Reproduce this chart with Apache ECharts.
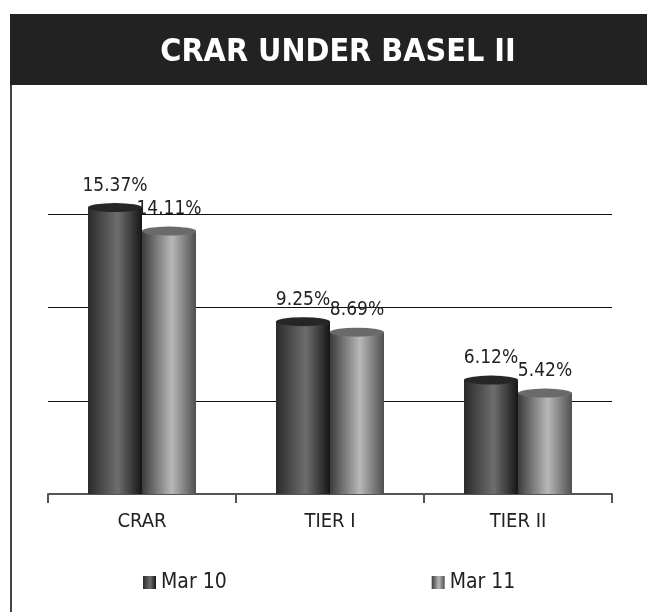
<!DOCTYPE html>
<html>
<head>
<meta charset="utf-8">
<style>
html, body { margin:0; padding:0; background:#fff; }
#main { width:647px; height:612px; }
</style>
</head>
<body>
<div id="main"></div>
<script src="https://cdn.jsdelivr.net/npm/echarts@6/dist/echarts.min.js"></script>
<script type="text/javascript">
	// data
	var categories = ['CRAR', 'TIER I', 'TIER II'];
	var seriesNames = ['Mar 10', 'Mar 11'];
	var mar10 = [15.37, 9.25, 6.12];
	var mar11 = [14.11, 8.69, 5.42];

	var font = "'Liberation Sans Narrow', 'DejaVu Sans Condensed', Arial, sans-serif";

	// cylinder-like shading
	function shade(c0, c1, c2) {
		return new echarts.graphic.LinearGradient(0, 0, 1, 0, [
			{offset: 0, color: c0},
			{offset: 0.55, color: c1},
			{offset: 1, color: c2}
		]);
	}
	var darkFill = shade('#2a2a2a', '#6e6e6e', '#151515');
	var lightFill = shade('#3c3c3c', '#b8b8b8', '#505050');

	var chart = echarts.init(document.getElementById('main'));

	var option = {
		animation: false,
		graphic: [
			{type: 'rect', shape: {x: 10, y: 14, width: 637, height: 71}, style: {fill: '#222222'}},
			{type: 'line', shape: {x1: 11, y1: 85, x2: 11, y2: 612}, style: {stroke: '#444', lineWidth: 2}}
		],
		title: {
			text: 'CRAR UNDER BASEL II',
			left: 333,
			top: 32,
			textAlign: 'center',
			textStyle: {color: '#fff', fontSize: 32, fontWeight: 'bold', fontFamily: font}
		},
		legend: {
			data: seriesNames,
			left: 138,
			top: 567,
			itemWidth: 13,
			itemHeight: 13,
			itemGap: 205,
			icon: 'rect',
			textStyle: {fontSize: 21, color: '#222', fontFamily: font}
		},
		grid: {left: 48, right: 35, top: 121, bottom: 118},
		xAxis: {
			type: 'category',
			data: categories,
			axisLine: {lineStyle: {color: '#555', width: 2}},
			axisTick: {show: true, length: 9, lineStyle: {color: '#555', width: 2}},
			axisLabel: {fontSize: 20, color: '#222', margin: 18, fontFamily: font}
		},
		yAxis: {
			type: 'value',
			min: 0,
			max: 20,
			interval: 5,
			axisLine: {show: false},
			axisTick: {show: false},
			axisLabel: {show: false},
			splitLine: {lineStyle: {color: ['transparent', '#111', '#111', '#111', 'transparent'], width: 1}}
		},
		series: [
			{
				name: seriesNames[0],
				type: 'bar',
				data: mar10,
				barWidth: 54,
				barGap: '0%',
				itemStyle: {color: darkFill},
				label: {
					show: true, position: 'top', distance: 12,
					fontSize: 19, color: '#222', fontFamily: font,
					formatter: function (p) { return p.value.toFixed(2) + '%'; }
				},
				z: 2
			},
			{
				name: seriesNames[1],
				type: 'bar',
				data: mar11,
				barWidth: 54,
				barGap: '0%',
				itemStyle: {color: lightFill},
				label: {
					show: true, position: 'top', distance: 12,
					fontSize: 19, color: '#222', fontFamily: font,
					formatter: function (p) { return p.value.toFixed(2) + '%'; }
				},
				z: 2
			},
			{
				name: 'cap10',
				type: 'pictorialBar',
				data: mar10,
				barWidth: 54,
				barGap: '0%',
				symbol: 'circle',
				symbolSize: [54, 9],
				symbolPosition: 'end',
				symbolOffset: [0, '-50%'],
				itemStyle: {color: '#262626', borderColor: '#555', borderWidth: 1},
				z: 3
			},
			{
				name: 'cap11',
				type: 'pictorialBar',
				data: mar11,
				barWidth: 54,
				barGap: '0%',
				symbol: 'circle',
				symbolSize: [54, 9],
				symbolPosition: 'end',
				symbolOffset: [0, '-50%'],
				itemStyle: {color: '#6a6a6a', borderColor: '#999', borderWidth: 1},
				z: 3
			}
		]
	};

	chart.setOption(option);
</script>
</body>
</html>
